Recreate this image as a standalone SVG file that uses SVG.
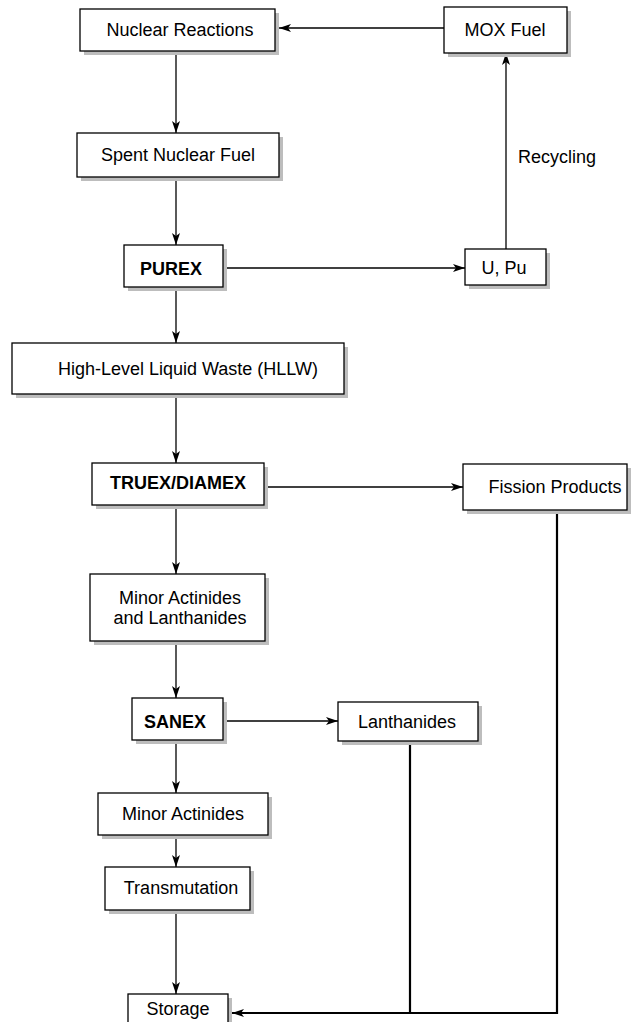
<svg xmlns="http://www.w3.org/2000/svg" width="635" height="1022" viewBox="0 0 635 1022">
<style>
.box{fill:#fff;stroke:#000;stroke-width:1.3}
.sh{fill:#bdbdbd}
.t{font-family:"Liberation Sans",Arial,sans-serif;font-size:18px;text-anchor:middle;fill:#000}
.b{font-weight:bold}
.c{fill:none;stroke:#000;stroke-width:1.3}
.k{fill:none;stroke:#000;stroke-width:2.2}
</style>
<defs>
<marker id="ah" viewBox="0 0 12 8" refX="12" refY="4" markerWidth="12" markerHeight="8" markerUnits="userSpaceOnUse" orient="auto">
<path d="M0,0 L12,4 L0,8 L3,4 Z" fill="#000"/>
</marker>
</defs>
<rect width="635" height="1022" fill="#fff"/>
<g id="connectors">
<line class="c" x1="444" y1="28" x2="279" y2="28" marker-end="url(#ah)"/>
<line class="c" x1="176" y1="51" x2="176" y2="133" marker-end="url(#ah)"/>
<line class="c" x1="176" y1="177" x2="176" y2="245" marker-end="url(#ah)"/>
<line class="c" x1="223" y1="268" x2="465" y2="268" marker-end="url(#ah)"/>
<line class="c" x1="506" y1="249" x2="506" y2="53" marker-end="url(#ah)"/>
<line class="c" x1="176" y1="287" x2="176" y2="343" marker-end="url(#ah)"/>
<line class="c" x1="176" y1="394" x2="176" y2="463" marker-end="url(#ah)"/>
<line class="c" x1="264" y1="487" x2="463" y2="487" marker-end="url(#ah)"/>
<line class="c" x1="176" y1="505" x2="176" y2="574" marker-end="url(#ah)"/>
<line class="c" x1="176" y1="641" x2="176" y2="698" marker-end="url(#ah)"/>
<line class="c" x1="223" y1="721" x2="338" y2="721" marker-end="url(#ah)"/>
<line class="c" x1="176" y1="740" x2="176" y2="793" marker-end="url(#ah)"/>
<line class="c" x1="176" y1="835" x2="176" y2="867" marker-end="url(#ah)"/>
<line class="c" x1="176" y1="910" x2="176" y2="994" marker-end="url(#ah)"/>
<polyline class="k" points="557,510 557,1013 232,1013" marker-end="url(#ah)"/>
<line class="k" x1="410" y1="741" x2="410" y2="1013"/>
<text class="t" x="557" y="163">Recycling</text>
</g>
<g id="nuclear-reactions"><rect class="sh" x="84" y="13" width="195" height="42"/><rect class="box" x="80" y="9" width="195" height="42"/><text class="t" x="180" y="36">Nuclear Reactions</text></g>
<g id="mox-fuel"><rect class="sh" x="448" y="11" width="123" height="46"/><rect class="box" x="444" y="7" width="123" height="46"/><text class="t" x="505" y="36">MOX Fuel</text></g>
<g id="spent-fuel"><rect class="sh" x="81" y="137" width="202" height="44"/><rect class="box" x="77" y="133" width="202" height="44"/><text class="t" x="178" y="161">Spent Nuclear Fuel</text></g>
<g id="purex"><rect class="sh" x="128" y="249" width="99" height="42"/><rect class="box" x="124" y="245" width="99" height="42"/><text class="t b" x="171" y="275">PUREX</text></g>
<g id="u-pu"><rect class="sh" x="469" y="253" width="81" height="36"/><rect class="box" x="465" y="249" width="81" height="36"/><text class="t" x="504" y="274">U, Pu</text></g>
<g id="hllw"><rect class="sh" x="16" y="347" width="332" height="51"/><rect class="box" x="12" y="343" width="332" height="51"/><text class="t" x="188" y="375">High-Level Liquid Waste (HLLW)</text></g>
<g id="truex-diamex"><rect class="sh" x="96" y="467" width="172" height="42"/><rect class="box" x="92" y="463" width="172" height="42"/><text class="t b" x="178" y="489">TRUEX/DIAMEX</text></g>
<g id="fission-products"><rect class="sh" x="467" y="468" width="164" height="46"/><rect class="box" x="463" y="464" width="164" height="46"/><text class="t" x="555" y="493">Fission Products</text></g>
<g id="ma-ln"><rect class="sh" x="94" y="578" width="175" height="67"/><rect class="box" x="90" y="574" width="175" height="67"/><text class="t" x="180" y="604">Minor Actinides</text><text class="t" x="180" y="624">and Lanthanides</text></g>
<g id="sanex"><rect class="sh" x="136" y="702" width="91" height="42"/><rect class="box" x="132" y="698" width="91" height="42"/><text class="t b" x="175" y="728">SANEX</text></g>
<g id="lanthanides"><rect class="sh" x="342" y="706" width="140" height="39"/><rect class="box" x="338" y="702" width="140" height="39"/><text class="t" x="407" y="728">Lanthanides</text></g>
<g id="minor-actinides"><rect class="sh" x="102" y="797" width="170" height="42"/><rect class="box" x="98" y="793" width="170" height="42"/><text class="t" x="183" y="820">Minor Actinides</text></g>
<g id="transmutation"><rect class="sh" x="109" y="871" width="145" height="43"/><rect class="box" x="105" y="867" width="145" height="43"/><text class="t" x="181" y="894">Transmutation</text></g>
<g id="storage"><rect class="sh" x="132" y="998" width="100" height="30"/><rect class="box" x="128" y="994" width="100" height="30"/><text class="t" x="178" y="1015">Storage</text></g>
</svg>
